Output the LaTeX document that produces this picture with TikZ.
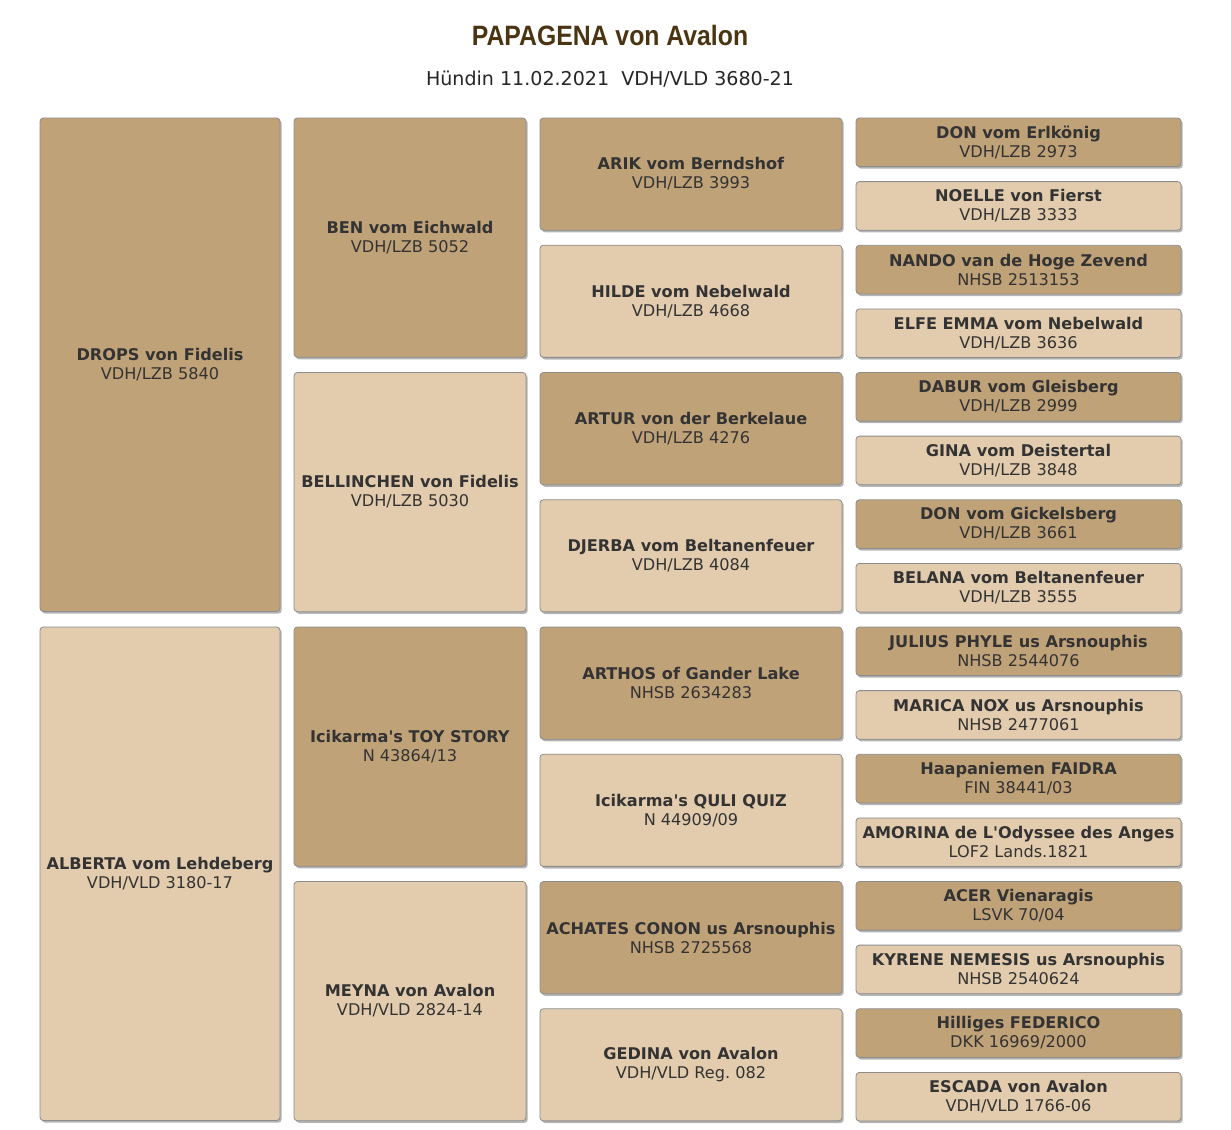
\documentclass[tikz,border=0pt]{standalone}
\usepackage{fontspec}
\setmainfont{DejaVu Sans}
\newfontfamily\titlefont[FakeStretch=0.885]{Liberation Sans}
\usetikzlibrary{shadows}
\frenchspacing

\definecolor{maleclr}{HTML}{C0A278}
\definecolor{femaleclr}{HTML}{E2CCAD}
\definecolor{titleclr}{HTML}{4A3412}
\definecolor{textclr}{HTML}{333333}
\definecolor{borderclr}{HTML}{8C8C8C}

\tikzset{
  dog/.style={draw=borderclr, line width=0.6pt, rounded corners=2.5pt,
    text=textclr, align=center, inner sep=0pt,
    font=\fontsize{12.1}{14.25}\selectfont,
    drop shadow={shadow xshift=1.3pt, shadow yshift=-1.6pt, fill=black!45, opacity=0.65}},
  male/.style={dog, fill=maleclr},
  female/.style={dog, fill=femaleclr},
  gen1/.style={minimum width=180pt, minimum height=370.1pt},
  gen2/.style={minimum width=174pt, minimum height=179.4pt},
  gen3/.style={minimum width=226.5pt, minimum height=84.1pt},
  gen4/.style={minimum width=243.75pt, minimum height=36.45pt}
}

\begin{document}
\begin{tikzpicture}[x=0.75pt,y=-0.75pt]
      \useasboundingbox (0,0) rectangle (1231,1129);
      % heading
      \node (title) at (610,35) {\titlefont\bfseries\color{titleclr}\fontsize{21}{24}\selectfont PAPAGENA von Avalon};
      \node (subtitle) at (610,79) {\color{black!85}\fontsize{14.3}{16}\selectfont Hündin 11.02.2021\ \ VDH/VLD 3680-21};
      % parents
      \node (s) [male, gen1] at (160,364.75) {\textbf{DROPS von Fidelis}\\VDH/LZB 5840};
      \node (d) [female, gen1] at (160,873.75) {\textbf{ALBERTA vom Lehdeberg}\\VDH/VLD 3180-17};
      % grandparents
      \node (ss) [male, gen2] at (410,237.6) {\textbf{BEN vom Eichwald}\\VDH/LZB 5052};
      \node (sd) [female, gen2] at (410,492.1) {\textbf{BELLINCHEN von Fidelis}\\VDH/LZB 5030};
      \node (ds) [male, gen2] at (410,746.6) {\textbf{Icikarma\textquotesingle s TOY STORY}\\N 43864/13};
      \node (dd) [female, gen2] at (410,1001.1) {\textbf{MEYNA von Avalon}\\VDH/VLD 2824-14};
      % great-grandparents
      \node (sss) [male, gen3] at (691,174.1) {\textbf{ARIK vom Berndshof}\\VDH/LZB 3993};
      \node (ssd) [female, gen3] at (691,301.3) {\textbf{HILDE vom Nebelwald}\\VDH/LZB 4668};
      \node (sds) [male, gen3] at (691,428.6) {\textbf{ARTUR von der Berkelaue}\\VDH/LZB 4276};
      \node (sdd) [female, gen3] at (691,555.8) {\textbf{DJERBA vom Beltanenfeuer}\\VDH/LZB 4084};
      \node (dss) [male, gen3] at (691,683.1) {\textbf{ARTHOS of Gander Lake}\\NHSB 2634283};
      \node (dsd) [female, gen3] at (691,810.3) {\textbf{Icikarma\textquotesingle s QULI QUIZ}\\N 44909/09};
      \node (dds) [male, gen3] at (691,937.6) {\textbf{ACHATES CONON us Arsnouphis}\\NHSB 2725568};
      \node (ddd) [female, gen3] at (691,1064.8) {\textbf{GEDINA von Avalon}\\VDH/VLD Reg. 082};
      % great-great-grandparents
      \node (ssss) [male, gen4] at (1018.5,142.3) {\textbf{DON vom Erlkönig}\\VDH/LZB 2973};
      \node (sssd) [female, gen4] at (1018.5,205.9) {\textbf{NOELLE von Fierst}\\VDH/LZB 3333};
      \node (ssds) [male, gen4] at (1018.5,269.6) {\textbf{NANDO van de Hoge Zevend}\\NHSB 2513153};
      \node (ssdd) [female, gen4] at (1018.5,333.2) {\textbf{ELFE EMMA vom Nebelwald}\\VDH/LZB 3636};
      \node (sdss) [male, gen4] at (1018.5,396.8) {\textbf{DABUR vom Gleisberg}\\VDH/LZB 2999};
      \node (sdsd) [female, gen4] at (1018.5,460.4) {\textbf{GINA vom Deistertal}\\VDH/LZB 3848};
      \node (sdds) [male, gen4] at (1018.5,524.1) {\textbf{DON vom Gickelsberg}\\VDH/LZB 3661};
      \node (sddd) [female, gen4] at (1018.5,587.7) {\textbf{BELANA vom Beltanenfeuer}\\VDH/LZB 3555};
      \node (dsss) [male, gen4] at (1018.5,651.3) {\textbf{JULIUS PHYLE us Arsnouphis}\\NHSB 2544076};
      \node (dssd) [female, gen4] at (1018.5,714.9) {\textbf{MARICA NOX us Arsnouphis}\\NHSB 2477061};
      \node (dsds) [male, gen4] at (1018.5,778.6) {\textbf{Haapaniemen FAIDRA}\\FIN 38441/03};
      \node (dsdd) [female, gen4] at (1018.5,842.2) {\textbf{AMORINA de L\textquotesingle Odyssee des Anges}\\LOF2 Lands.1821};
      \node (ddss) [male, gen4] at (1018.5,905.8) {\textbf{ACER Vienaragis}\\LSVK 70/04};
      \node (ddsd) [female, gen4] at (1018.5,969.4) {\textbf{KYRENE NEMESIS us Arsnouphis}\\NHSB 2540624};
      \node (ddds) [male, gen4] at (1018.5,1033.1) {\textbf{Hilliges FEDERICO}\\DKK 16969/2000};
      \node (dddd) [female, gen4] at (1018.5,1096.7) {\textbf{ESCADA von Avalon}\\VDH/VLD 1766-06};
    \end{tikzpicture}
\end{document}
